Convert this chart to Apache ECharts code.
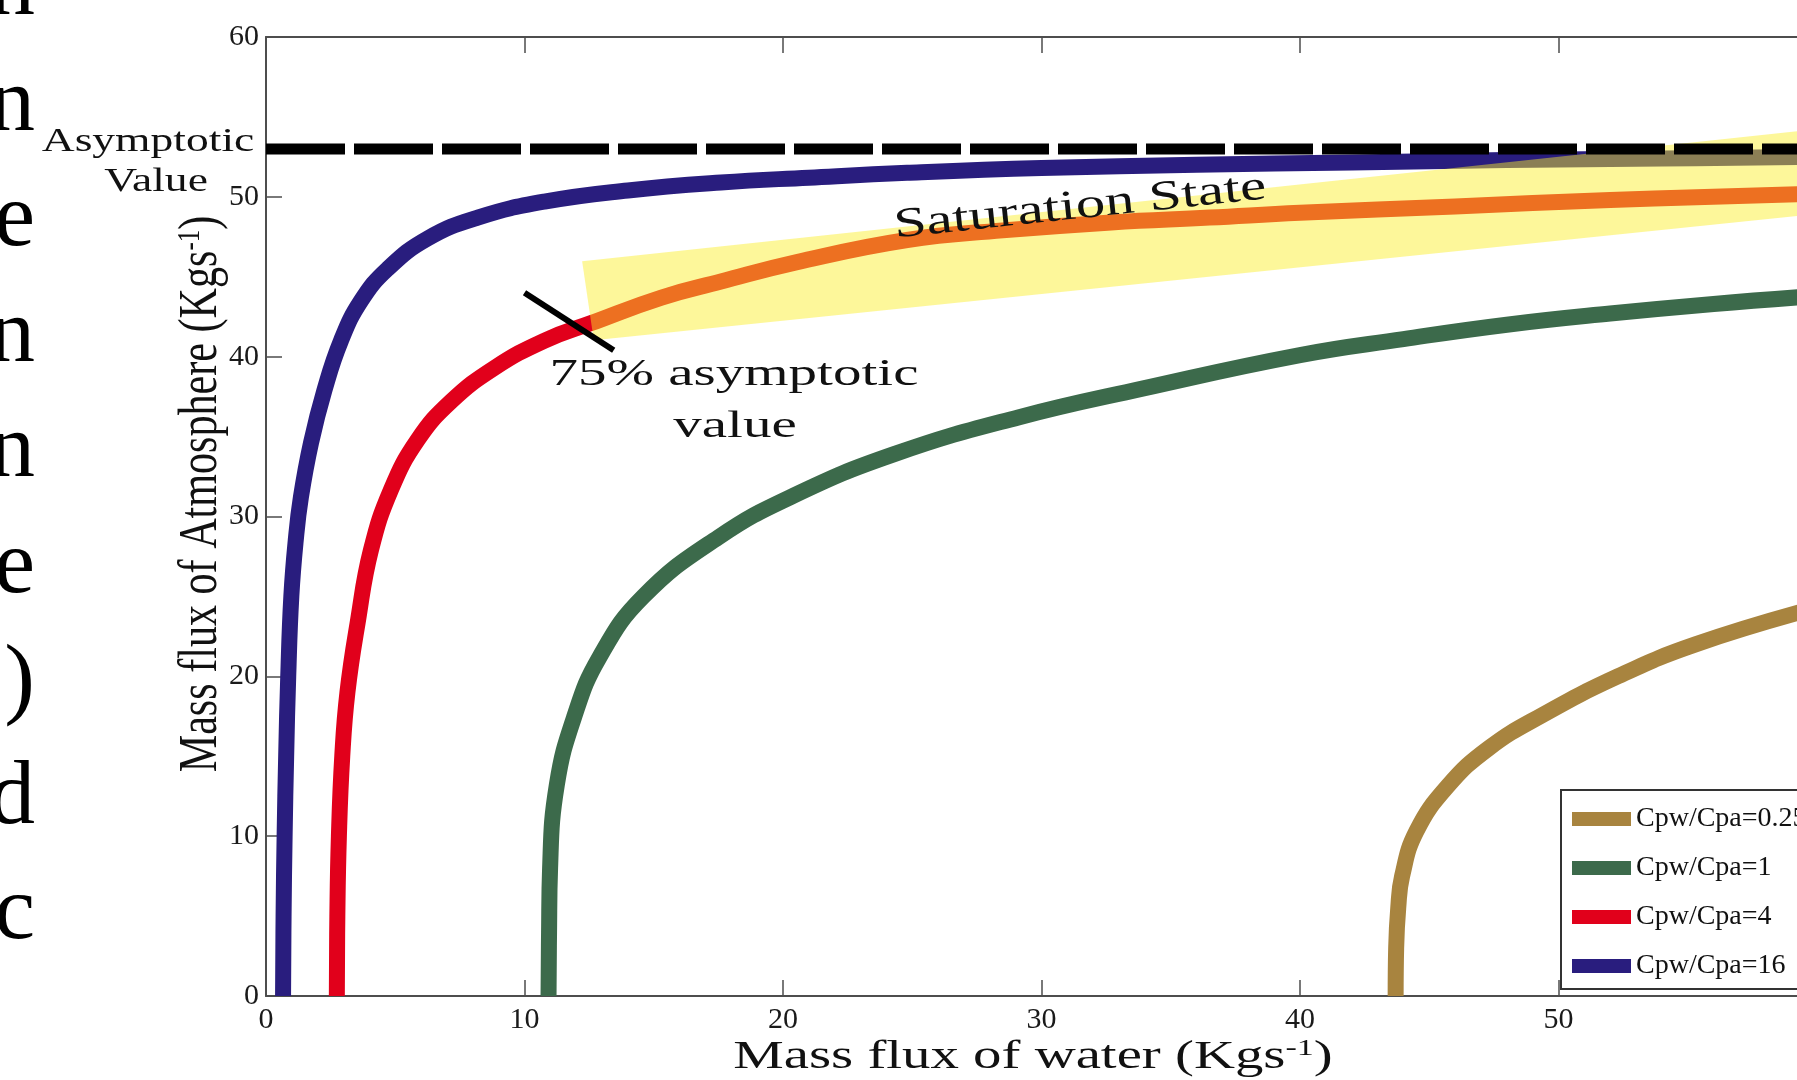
<!DOCTYPE html>
<html>
<head>
<meta charset="utf-8">
<script src="https://cdn.jsdelivr.net/npm/echarts@6.0.0/dist/echarts.min.js"></script>
<style>
html,body{margin:0;padding:0;background:#fff;overflow:hidden;}
#chart{width:1797px;height:1080px;}
</style>
</head>
<body>
<div id="chart"></div>
<script>
// curves: [mass flux of water, mass flux of atmosphere]
const names = ['Cpw/Cpa=0.25', 'Cpw/Cpa=1', 'Cpw/Cpa=4', 'Cpw/Cpa=16'];
const colors = ['#a8843f', '#3c6a4b', '#e1001b', '#291d7e'];

const ratio025 = [[43.70,0],[43.72,3],[43.8,5.5],[43.95,7.5],[44.5,10.3],[45.7,13.1],[47.3,15.5],[49.4,17.6],[52.3,20.0],[55.3,22.0],[60,24.3]];
const ratio1 = [[10.93,0],[10.95,4],[10.99,8],[11.25,13.2],[11.93,17.5],[12.9,21.2],[14.6,25.0],[17.5,28.7],[20.4,31.3],[24.3,33.9],[29.1,36.2],[33.9,38.0],[40,40.1],[44,41.1],[48,42.0],[52,42.7],[56,43.3],[60,43.8]];
const ratio4 = [[2.74,0],[2.76,5],[2.82,10],[2.95,15],[3.15,19],[3.55,23.4],[4.06,27.9],[4.84,31.7],[5.87,34.8],[7.16,37.2],[8.84,39.3],[10.77,41.0],[12.58,42.1],[15.3,43.7],[17.6,44.7],[20.5,45.9],[24.8,47.3],[28.5,47.9],[32.7,48.4],[36.5,48.7],[40,49.0],[46,49.4],[52,49.8],[60,50.2]];
const ratio16 = [[0.66,0],[0.68,5],[0.72,10],[0.78,15],[0.86,20],[0.98,25],[1.15,28.5],[1.35,31.2],[1.74,34.6],[2.26,37.9],[2.9,41.0],[3.68,43.5],[4.71,45.5],[6.26,47.4],[8.19,48.7],[10.77,49.7],[14.0,50.4],[17.6,50.9],[21,51.2],[24.8,51.5],[30,51.8],[36,52.0],[42,52.15],[48,52.3],[54,52.4],[60,52.5]];

const asymptote = [[0,53],[60,53]];
const mark75 = [[10.0,44.0],[13.45,40.4]];
const saturationBand = [[12.23,45.97],[60,54.24],[60,48.93],[12.68,41.03]];

const xTicks = {min:0, max:60, step:10};
const yTicks = {min:0, max:60, step:10};

// cropped slide text at the left edge
const leftLetters = ['n','n','e','n','n','e',')','d','c'];

const serif = '"Liberation Serif", "Times New Roman", serif';
const axisGray = '#4d4d4d';

function curve(name, data, color) {
  return {
    name: name, type: 'line', data: data, color: color,
    showSymbol: false, smooth: 0.45, z: 2,
    lineStyle: {color: color, width: 16, cap: 'butt', join: 'round'},
    itemStyle: {color: color},
    emphasis: {disabled: true}
  };
}

function label(text, x, y, size, sx, rot) {
  return {
    type: 'text', x: x, y: y, rotation: rot || 0, scaleX: sx, scaleY: 1, z: 20, silent: true,
    style: {text: text, fill: '#111', fontFamily: serif, fontSize: size,
            align: 'center', verticalAlign: 'middle'}
  };
}

function supLabel(main, tail, x, y, size, sx, rot) {
  return {
    type: 'text', x: x, y: y, rotation: rot || 0, scaleX: sx, scaleY: 1, z: 20, silent: true,
    style: {
      text: '{m|' + main + '}{s|-1}{m|' + tail + '}',
      fill: '#111', align: 'center', verticalAlign: 'middle',
      rich: {
        m: {fontFamily: serif, fontSize: size, fill: '#111'},
        s: {fontFamily: serif, fontSize: Math.round(size * 0.6), fill: '#111', verticalAlign: 'top'}
      }
    }
  };
}

const graphics = leftLetters.map((ch, i) => ({
  type: 'text', x: 35, y: 21 + 115.5 * i - 31, z: 20, silent: true,
  style: {text: ch, fill: '#000', fontFamily: serif, fontSize: 92, align: 'right', verticalAlign: 'middle'}
}));
graphics.push(
  label('Asymptotic', 148, 142, 33, 1.38),
  label('Value', 156, 182, 33, 1.38),
  label('75% asymptotic', 734, 375, 38, 1.5),
  label('value', 735, 427, 38, 1.5),
  label('Saturation State', 1080, 207, 42, 1.4, 0.105),
  supLabel('Mass flux of water (Kgs', ')', 1033, 1057, 40, 1.42),
  supLabel('Mass flux of Atmosphere (Kgs', ')', 202, 494, 54, 0.78, Math.PI / 2)
);

const chart = echarts.init(document.getElementById('chart'));
chart.setOption({
  animation: false,
  backgroundColor: '#fff',
  grid: {left: 266, top: 37, width: 1551, height: 959, outerBoundsMode: 'none', containLabel: false},
  xAxis: [{
    type: 'value', min: xTicks.min, max: xTicks.max, interval: xTicks.step, position: 'bottom',
    axisLine: {show: true, onZero: false, lineStyle: {color: axisGray, width: 2}},
    axisTick: {show: true, inside: true, length: 16, lineStyle: {color: axisGray, width: 1.5}},
    axisLabel: {fontFamily: serif, fontSize: 30, color: '#1a1a1a', margin: 9},
    splitLine: {show: false}
  }, {
    type: 'value', min: xTicks.min, max: xTicks.max, interval: xTicks.step, position: 'top',
    axisLine: {show: true, onZero: false, lineStyle: {color: axisGray, width: 2}},
    axisTick: {show: true, inside: true, length: 16, lineStyle: {color: axisGray, width: 1.5}},
    axisLabel: {show: false},
    splitLine: {show: false}
  }],
  yAxis: {
    type: 'value', min: yTicks.min, max: yTicks.max, interval: yTicks.step,
    axisLine: {show: true, onZero: false, lineStyle: {color: axisGray, width: 2}},
    axisTick: {show: true, inside: true, length: 16, lineStyle: {color: axisGray, width: 1.5}},
    axisLabel: {fontFamily: serif, fontSize: 30, color: '#1a1a1a', margin: 7},
    splitLine: {show: false}
  },
  legend: {
    data: names, orient: 'vertical', left: 1561, top: 790, icon: 'rect',
    itemWidth: 59, itemHeight: 14, itemGap: 19,
    padding: [14, 0, 8, 11], borderColor: '#333', borderWidth: 2, backgroundColor: '#fff',
    textStyle: {fontFamily: serif, fontSize: 28, color: '#111', lineHeight: 30},
    selectedMode: false
  },
  series: [
    curve(names[0], ratio025, colors[0]),
    curve(names[1], ratio1, colors[1]),
    curve(names[2], ratio4, colors[2]),
    curve(names[3], ratio16, colors[3]),
    {
      type: 'custom', z: 3, silent: true, data: [0],
      renderItem: function (params, api) {
        return {
          type: 'polygon',
          shape: {points: saturationBand.map(p => api.coord(p))},
          style: {fill: 'rgba(250,238,40,0.47)'}
        };
      }
    },
    {
      type: 'line', data: asymptote, showSymbol: false, z: 4, silent: true,
      lineStyle: {color: '#000', width: 11, type: [79, 9], cap: 'butt'}
    },
    {
      type: 'line', data: mark75, showSymbol: false, z: 5, silent: true,
      lineStyle: {color: '#000', width: 6, cap: 'butt'}
    }
  ],
  graphic: graphics
});
</script>
</body>
</html>
